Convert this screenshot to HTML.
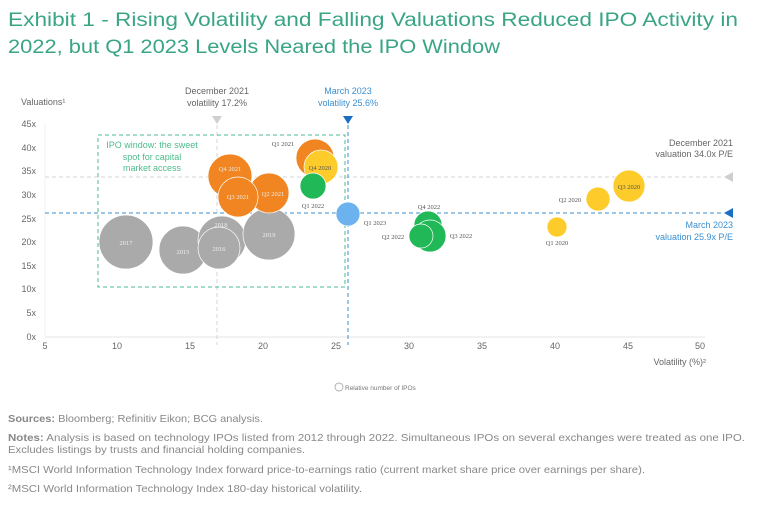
<!DOCTYPE html>
<html><head><meta charset="utf-8"><style>
html,body{margin:0;padding:0;background:#fff;}
svg{display:block;font-family:"Liberation Sans",sans-serif;}
</style></head><body>
<svg width="768" height="523" viewBox="0 0 768 523" xmlns="http://www.w3.org/2000/svg">
<g fill="#3aa585" font-size="19">
<text x="8" y="26" textLength="730" lengthAdjust="spacingAndGlyphs">Exhibit 1 - Rising Volatility and Falling Valuations Reduced IPO Activity in</text>
<text x="8" y="53" textLength="492" lengthAdjust="spacingAndGlyphs">2022, but Q1 2023 Levels Neared the IPO Window</text>
</g>
<g font-size="9" fill="#666">
<text x="21" y="105">Valuations¹</text>
<g text-anchor="end">
<text x="36" y="127">45x</text><text x="36" y="151">40x</text><text x="36" y="174">35x</text><text x="36" y="198">30x</text><text x="36" y="222">25x</text><text x="36" y="245">20x</text><text x="36" y="269">15x</text><text x="36" y="292">10x</text><text x="36" y="316">5x</text><text x="36" y="340">0x</text>
</g>
<g text-anchor="middle">
<text x="45" y="349">5</text><text x="117" y="349">10</text><text x="190" y="349">15</text><text x="263" y="349">20</text><text x="336" y="349">25</text><text x="409" y="349">30</text><text x="482" y="349">35</text><text x="555" y="349">40</text><text x="628" y="349">45</text><text x="700" y="349">50</text>
</g>
<text x="706" y="365" text-anchor="end">Volatility (%)²</text>
</g>
<line x1="45" y1="337" x2="705" y2="337" stroke="#eee" stroke-width="1.5"/>
<line x1="45" y1="124" x2="45" y2="337" stroke="#f2f2f2"/>
<line x1="217" y1="125" x2="217" y2="345" stroke="#d4d4d4" stroke-dasharray="4,3"/>
<line x1="45" y1="177" x2="722" y2="177" stroke="#d4d4d4" stroke-dasharray="4,3"/>
<line x1="348" y1="125" x2="348" y2="345" stroke="#3a8fd0" stroke-dasharray="4,3"/>
<line x1="45" y1="213" x2="722" y2="213" stroke="#3a8fd0" stroke-dasharray="4,3"/>
<polygon points="212,116 222,116 217,124" fill="#cfcfcf"/>
<polygon points="343,116 353,116 348,124" fill="#1a6fc4"/>
<polygon points="733,172 733,182 724,177" fill="#cfcfcf"/>
<polygon points="733,208 733,218 724,213" fill="#1a6fc4"/>
<g font-size="9" text-anchor="middle">
<text x="217" y="94" fill="#666">December 2021</text><text x="217" y="106" fill="#666">volatility 17.2%</text>
<text x="348" y="94" fill="#3a8fd0">March 2023</text><text x="348" y="106" fill="#3a8fd0">volatility 25.6%</text>
</g>
<g font-size="9" text-anchor="end">
<text x="733" y="146" fill="#666">December 2021</text><text x="733" y="157" fill="#666">valuation 34.0x P/E</text>
<text x="733" y="228" fill="#3a8fd0">March 2023</text><text x="733" y="240" fill="#3a8fd0">valuation 25.9x P/E</text>
</g>
<rect x="98" y="135" width="247" height="152" fill="none" stroke="#4dbb8c" stroke-dasharray="4,3"/>
<g font-size="9" fill="#4dbb8c" text-anchor="middle">
<text x="152" y="148">IPO window: the sweet</text><text x="152" y="160">spot for capital</text><text x="152" y="171">market access</text>
</g>
<g stroke="#fff" stroke-width="0.7">
<circle cx="126" cy="242" r="27" fill="#aaa"/>
<circle cx="183" cy="250" r="24" fill="#aaa"/>
<circle cx="222" cy="240" r="24" fill="#aaa"/>
<circle cx="219" cy="248" r="21" fill="#aaa"/>
<circle cx="269" cy="234" r="26" fill="#aaa"/>
<circle cx="230" cy="176" r="22" fill="#f08521"/>
<circle cx="269" cy="193" r="20" fill="#f08521"/>
<circle cx="238" cy="197" r="20" fill="#f08521"/>
<circle cx="315" cy="158" r="19" fill="#f08521"/>
<circle cx="321" cy="167" r="17" fill="#fdcb2a"/>
<circle cx="313" cy="186" r="13" fill="#21b857"/>
<circle cx="348" cy="214" r="12" fill="#6cb2ef"/>
<circle cx="428" cy="225" r="14" fill="#21b857"/>
<circle cx="430" cy="236" r="16" fill="#21b857"/>
<circle cx="421" cy="236" r="12" fill="#21b857"/>
<circle cx="557" cy="227" r="10" fill="#fdcb2a"/>
<circle cx="598" cy="199" r="12" fill="#fdcb2a"/>
<circle cx="629" cy="186" r="16" fill="#fdcb2a"/>
</g>
<g font-size="6.5" text-anchor="middle" font-family="Liberation Serif,serif">
<g fill="#eee">
<text x="126" y="245">2017</text><text x="183" y="254">2015</text><text x="221" y="227">2018</text><text x="219" y="251">2016</text><text x="269" y="237">2019</text>
<text x="230" y="171">Q4 2021</text><text x="238" y="199">Q3 2021</text><text x="273" y="196">Q2 2021</text>
</g>
<g fill="#555">
<text x="283" y="146">Q1 2021</text><text x="320" y="170">Q4 2020</text><text x="313" y="208">Q1 2022</text><text x="375" y="225">Q1 2023</text>
<text x="429" y="209">Q4 2022</text><text x="393" y="239">Q2 2022</text><text x="461" y="238">Q3 2022</text>
<text x="557" y="245">Q1 2020</text><text x="570" y="202">Q2 2020</text><text x="629" y="189">Q3 2020</text>
</g>
</g>
<circle cx="339" cy="387" r="4" fill="none" stroke="#999" stroke-width="0.7"/>
<text x="345" y="390" font-size="6.5" fill="#777">Relative number of IPOs</text>
<g font-size="10.5" fill="#888">
<text x="8" y="422" textLength="255" lengthAdjust="spacingAndGlyphs"><tspan font-weight="bold">Sources:</tspan> Bloomberg; Refinitiv Eikon; BCG analysis.</text>
<text x="8" y="441" textLength="737" lengthAdjust="spacingAndGlyphs"><tspan font-weight="bold">Notes:</tspan> Analysis is based on technology IPOs listed from 2012 through 2022. Simultaneous IPOs on several exchanges were treated as one IPO.</text>
<text x="8" y="453" textLength="297" lengthAdjust="spacingAndGlyphs">Excludes listings by trusts and financial holding companies.</text>
<text x="8" y="473" textLength="637" lengthAdjust="spacingAndGlyphs">¹MSCI World Information Technology Index forward price-to-earnings ratio (current market share price over earnings per share).</text>
<text x="8" y="492" textLength="354" lengthAdjust="spacingAndGlyphs">²MSCI World Information Technology Index 180-day historical volatility.</text>
</g>
</svg>
</body></html>
